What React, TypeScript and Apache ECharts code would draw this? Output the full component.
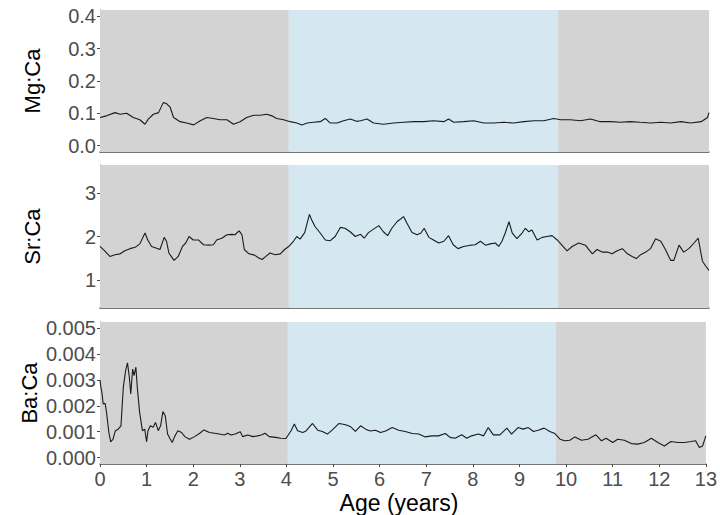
import React, { useEffect, useRef } from "react";
import * as echarts from "echarts";

// Age (years) vs ratio
const mgCa: [number, number][] = [
  [0, 0.087], [0.14, 0.092], [0.32, 0.102], [0.43, 0.097], [0.57, 0.1], [0.71, 0.087], [0.85, 0.08],
  [0.96, 0.066], [1.03, 0.082], [1.14, 0.097], [1.25, 0.102], [1.35, 0.133], [1.42, 0.13], [1.5, 0.118],
  [1.57, 0.087], [1.71, 0.074], [1.85, 0.07], [2.0, 0.064], [2.14, 0.077], [2.28, 0.087], [2.42, 0.084],
  [2.56, 0.08], [2.71, 0.08], [2.85, 0.066], [2.99, 0.074], [3.13, 0.087], [3.28, 0.094], [3.42, 0.094],
  [3.56, 0.097], [3.67, 0.092], [3.77, 0.084], [3.92, 0.08], [4.06, 0.074], [4.2, 0.07], [4.31, 0.064],
  [4.42, 0.07], [4.56, 0.072], [4.7, 0.074], [4.81, 0.084], [4.91, 0.07], [5.06, 0.07], [5.2, 0.077],
  [5.34, 0.082], [5.48, 0.075], [5.56, 0.077], [5.7, 0.082], [5.84, 0.07], [6.05, 0.066], [6.27, 0.07],
  [6.48, 0.072], [6.7, 0.074], [6.91, 0.074], [7.12, 0.077], [7.34, 0.074], [7.44, 0.082], [7.55, 0.072],
  [7.76, 0.074], [7.98, 0.077], [8.19, 0.07], [8.41, 0.07], [8.62, 0.072], [8.83, 0.07], [9.05, 0.074],
  [9.26, 0.077], [9.47, 0.077], [9.69, 0.084], [9.83, 0.08], [10.04, 0.08], [10.26, 0.077], [10.47, 0.082],
  [10.68, 0.074], [10.9, 0.074], [11.11, 0.072], [11.32, 0.074], [11.53, 0.072], [11.75, 0.07], [11.97, 0.072],
  [12.18, 0.07], [12.4, 0.074], [12.61, 0.07], [12.83, 0.074], [12.97, 0.087], [13.0, 0.102],
];

const srCa: [number, number][] = [
  [0, 1.77], [0.1, 1.67], [0.21, 1.54], [0.32, 1.58], [0.43, 1.6], [0.53, 1.67], [0.64, 1.72], [0.75, 1.75],
  [0.85, 1.83], [0.96, 2.08], [1.02, 1.92], [1.1, 1.77], [1.21, 1.73], [1.28, 1.7], [1.37, 1.98], [1.42, 1.89],
  [1.47, 1.62], [1.58, 1.45], [1.67, 1.54], [1.76, 1.77], [1.83, 1.85], [1.9, 2.0], [1.99, 1.92], [2.1, 1.92],
  [2.21, 1.81], [2.32, 1.8], [2.42, 1.81], [2.49, 1.92], [2.6, 1.96], [2.71, 2.04], [2.81, 2.05], [2.88, 2.04],
  [2.97, 2.13], [3.03, 2.04], [3.08, 1.7], [3.18, 1.6], [3.3, 1.57], [3.38, 1.51], [3.46, 1.47], [3.54, 1.54],
  [3.63, 1.62], [3.74, 1.58], [3.85, 1.6], [3.94, 1.7], [4.03, 1.77], [4.13, 1.89], [4.2, 2.0], [4.27, 1.94],
  [4.37, 2.09], [4.47, 2.51], [4.52, 2.38], [4.59, 2.23], [4.7, 2.08], [4.81, 1.92], [4.91, 1.9], [5.02, 2.0],
  [5.13, 2.21], [5.23, 2.19], [5.34, 2.11], [5.45, 2.0], [5.56, 2.05], [5.64, 1.96], [5.73, 2.09], [5.84, 2.17],
  [5.95, 2.25], [6.05, 2.11], [6.14, 2.02], [6.23, 2.19], [6.34, 2.34], [6.48, 2.46], [6.55, 2.31], [6.66, 2.09],
  [6.77, 2.04], [6.85, 2.08], [6.92, 2.19], [7.02, 1.98], [7.12, 1.92], [7.23, 1.85], [7.34, 1.89], [7.44, 2.02],
  [7.54, 1.81], [7.64, 1.72], [7.76, 1.77], [7.91, 1.8], [8.01, 1.81], [8.12, 1.89], [8.23, 1.8], [8.33, 1.83],
  [8.44, 1.85], [8.51, 1.77], [8.58, 1.89], [8.65, 2.08], [8.73, 2.34], [8.8, 2.08], [8.9, 1.95], [9.01, 2.08],
  [9.08, 2.19], [9.15, 2.11], [9.22, 2.15], [9.33, 1.92], [9.44, 1.98], [9.54, 2.0], [9.65, 2.02], [9.76, 1.92],
  [9.86, 1.8], [9.97, 1.67], [10.08, 1.77], [10.22, 1.85], [10.36, 1.8], [10.51, 1.6], [10.61, 1.7], [10.72, 1.64],
  [10.83, 1.64], [10.93, 1.6], [11.04, 1.67], [11.15, 1.72], [11.26, 1.6], [11.36, 1.54], [11.45, 1.49],
  [11.54, 1.58], [11.65, 1.64], [11.75, 1.72], [11.86, 1.95], [11.97, 1.89], [12.07, 1.7], [12.18, 1.45],
  [12.25, 1.45], [12.36, 1.8], [12.46, 1.64], [12.57, 1.72], [12.68, 1.85], [12.77, 1.96], [12.86, 1.43],
  [12.93, 1.32], [13.0, 1.22],
];

const baCa: [number, number][] = [
  [0, 0.003], [0.02, 0.00272], [0.04, 0.00253], [0.07, 0.00207], [0.11, 0.0021], [0.14, 0.00175], [0.19, 0.00097],
  [0.23, 0.00061], [0.28, 0.00071], [0.33, 0.00104], [0.39, 0.0011], [0.45, 0.00123], [0.5, 0.00272],
  [0.55, 0.00337], [0.59, 0.00367], [0.63, 0.0031], [0.66, 0.00246], [0.7, 0.00343], [0.73, 0.00317],
  [0.77, 0.0035], [0.8, 0.00272], [0.85, 0.00175], [0.91, 0.00104], [0.96, 0.0011], [1.0, 0.00061],
  [1.03, 0.00104], [1.08, 0.00123], [1.14, 0.00117], [1.19, 0.00136], [1.25, 0.00104], [1.3, 0.00123],
  [1.35, 0.00178], [1.4, 0.00162], [1.45, 0.00091], [1.5, 0.00074], [1.55, 0.00058], [1.6, 0.00081],
  [1.67, 0.00104], [1.75, 0.00097], [1.82, 0.00081], [1.92, 0.00071], [2.03, 0.00081], [2.14, 0.00094],
  [2.23, 0.00107], [2.35, 0.00097], [2.46, 0.00094], [2.56, 0.00091], [2.67, 0.00087], [2.74, 0.00094],
  [2.81, 0.00087], [2.9, 0.00091], [3.01, 0.001], [3.06, 0.00081], [3.17, 0.00087], [3.28, 0.00081],
  [3.38, 0.00084], [3.46, 0.00087], [3.54, 0.00094], [3.63, 0.00081], [3.77, 0.00078], [3.88, 0.00075],
  [3.99, 0.00074], [4.1, 0.00104], [4.17, 0.0013], [4.24, 0.00104], [4.35, 0.00097], [4.42, 0.00103],
  [4.56, 0.00132], [4.67, 0.00106], [4.77, 0.00101], [4.88, 0.00091], [4.98, 0.00106], [5.13, 0.00132],
  [5.27, 0.00127], [5.38, 0.00119], [5.48, 0.00101], [5.59, 0.00123], [5.7, 0.0011], [5.8, 0.00103],
  [5.91, 0.00106], [6.02, 0.00097], [6.13, 0.00103], [6.27, 0.00116], [6.41, 0.00106], [6.55, 0.00101],
  [6.7, 0.00093], [6.84, 0.00091], [6.98, 0.0008], [7.12, 0.00084], [7.26, 0.00084], [7.41, 0.00093],
  [7.51, 0.00078], [7.62, 0.00075], [7.76, 0.00088], [7.87, 0.00075], [7.97, 0.00084], [8.12, 0.00091],
  [8.23, 0.00084], [8.33, 0.00116], [8.44, 0.00088], [8.58, 0.00088], [8.73, 0.00114], [8.83, 0.00091],
  [8.97, 0.00116], [9.08, 0.0011], [9.19, 0.00116], [9.3, 0.00101], [9.4, 0.00106], [9.53, 0.00114],
  [9.65, 0.00101], [9.76, 0.00093], [9.87, 0.00071], [9.97, 0.00065], [10.08, 0.00067], [10.19, 0.0008],
  [10.33, 0.00067], [10.47, 0.00071], [10.64, 0.00088], [10.76, 0.00065], [10.86, 0.00075], [11.0, 0.00058],
  [11.11, 0.00071], [11.25, 0.00067], [11.4, 0.00054], [11.54, 0.00052], [11.68, 0.00058], [11.83, 0.00075],
  [11.97, 0.00058], [12.11, 0.00045], [12.25, 0.00062], [12.4, 0.00058], [12.54, 0.00058], [12.68, 0.00062],
  [12.78, 0.00065], [12.86, 0.00039], [12.93, 0.00045], [13.0, 0.00084],
];

const xTicks = [0, 1, 2, 3, 4, 5, 6, 7, 8, 9, 10, 11, 12, 13];
const mgTicks = [0, 0.1, 0.2, 0.3, 0.4];
const srTicks = [1, 2, 3];
const baTicks = [0, 0.001, 0.002, 0.003, 0.004, 0.005];
// shaded periods (age, years)
const periodBreaks = [0, 4.03, 9.78, 13];
const periodKinds = ["grey", "blue", "grey"];
const yTitles = ["Mg:Ca", "Sr:Ca", "Ba:Ca"];

const FONT = "'Liberation Sans', Arial, sans-serif";
const GREY = "#d3d3d3";
const BLUE = "#d5e8f1";
const AXIS = "#4a4a4a";
const TICKTXT = "#4d4d4d";

export default function App() {
  const ref = useRef<HTMLDivElement>(null);
  useEffect(() => {
    if (!ref.current) return;
    const chart = echarts.init(ref.current, undefined, { renderer: "svg" });
    const L = 100;
    const W = 609;
    const grids = [
      { left: L, top: 10, width: W, height: 142 },
      { left: L, top: 165, width: W, height: 143 },
      { left: L, top: 322, width: W, height: 142 },
    ];
    const ranges = [
      [-0.02, 0.42],
      [0.35, 3.65],
      [-0.00025, 0.00525],
    ];
    const ticks = [mgTicks, srTicks, baTicks];
    const decimals = [1, 0, 3];
    const data = [mgCa, srCa, baCa];
    const areas = periodKinds.map((k, i) => [
      { xAxis: periodBreaks[i], itemStyle: { color: k === "grey" ? GREY : BLUE } },
      { xAxis: periodBreaks[i + 1] },
    ]);
    const option: any = {
      animation: false,
      grid: grids,
      xAxis: grids.map((_, i) => ({
        type: "value",
        gridIndex: i,
        min: 0,
        max: 13,
        interval: 1,
        axisLine: { show: true, onZero: false, lineStyle: { color: AXIS, width: 1.5 } },
        axisTick: { show: i === 2, length: 3, lineStyle: { color: AXIS } },
        axisLabel: {
          show: i === 2,
          margin: 5,
          color: TICKTXT,
          fontSize: 20,
          fontFamily: FONT,
          customValues: xTicks,
        },
        splitLine: { show: false },
      })),
      yAxis: grids.map((_, i) => ({
        type: "value",
        gridIndex: i,
        min: ranges[i][0],
        max: ranges[i][1],
        axisLine: { show: true, onZero: false, lineStyle: { color: AXIS, width: 1 } },
        axisTick: { show: true, length: 3, customValues: ticks[i], lineStyle: { color: AXIS } },
        axisLabel: {
          margin: 4,
          color: TICKTXT,
          fontSize: 20,
          fontFamily: FONT,
          customValues: ticks[i],
          formatter: (v: number) => v.toFixed(decimals[i]),
        },
        splitLine: { show: false },
      })),
      series: data.map((d, i) => ({
        type: "line",
        xAxisIndex: i,
        yAxisIndex: i,
        data: d,
        showSymbol: false,
        symbol: "none",
        lineStyle: { color: "#1a1a1a", width: 1.1 },
        markArea: { silent: true, data: areas },
        z: 3,
      })),
      graphic: [
        ...yTitles.map((t, i) => ({
          type: "text",
          x: i === 2 ? 29 : 32,
          y: grids[i].top + grids[i].height / 2,
          rotation: Math.PI / 2,
          style: {
            text: t,
            fill: "#000",
            fontSize: 22,
            fontFamily: FONT,
            textAlign: "center",
            textVerticalAlign: "middle",
          },
        })),
        {
          type: "text",
          x: 399,
          y: 503,
          style: {
            text: "Age (years)",
            fill: "#000",
            fontSize: 23,
            fontFamily: FONT,
            textAlign: "center",
            textVerticalAlign: "middle",
          },
        },
      ],
    };
    chart.setOption(option);
    return () => chart.dispose();
  }, []);
  return (
    <div
      ref={ref}
      style={{ position: "fixed", left: 0, top: 0, width: 720, height: 515, background: "#fff" }}
    />
  );
}
